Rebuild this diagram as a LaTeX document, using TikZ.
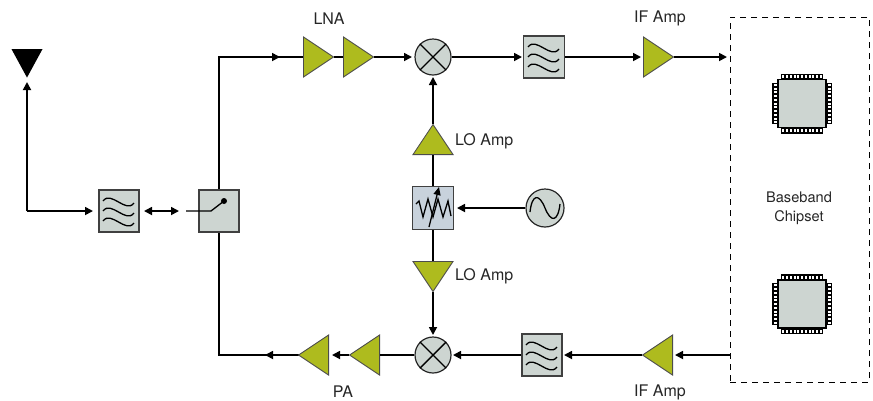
\documentclass[tikz,border=0pt]{standalone}
\usepackage{fontspec}
\setmainfont{TeX Gyre Heros}
\usetikzlibrary{arrows.meta,shapes.geometric}
\definecolor{boxgrey}{HTML}{CDD5D1}
\definecolor{resblue}{HTML}{C8D2DC}
\definecolor{ampgreen}{HTML}{AEBB1E}
\tikzset{
  x=1pt,y=-1pt,
  conn/.style={draw=black,line width=1.7pt},
  arr/.style={conn,-{Triangle[length=8pt,width=8pt]}},
  lbl/.style={font=\fontsize{16}{18.5}\selectfont,text=black!85,inner sep=0pt},
  blockbox/.style={draw=black!75,fill=boxgrey,line width=1.1pt,minimum width=40pt,minimum height=41pt,inner sep=0pt},
  resbox/.style={draw=black!75,fill=resblue,line width=1.1pt,minimum width=41pt,minimum height=43pt,inner sep=0pt},
  mixerc/.style={circle,draw=black!85,fill=boxgrey,line width=1.2pt,minimum size=36pt,inner sep=0pt},
  amp/.style={isosceles triangle,isosceles triangle apex angle=68,isosceles triangle stretches,
    minimum height=30pt,minimum width=40pt,inner sep=0pt,draw=black!70,fill=ampgreen,line width=.9pt,shape border rotate=#1},
  wave/.style={draw=black,line width=1.3pt},
}
\newcommand{\wavesat}[1]{%
  \foreach \dy in {-10,0,10}{
    \draw[wave] ([shift={(-16,\dy)}]#1) .. controls +(8,-11) and +(-8,11) .. ++(31,2);
  }}
\newcommand{\chipat}[2]{%
  \foreach \i in {-5,...,5}{
    \fill[black] ([shift={(\i*3.75-1.9,-30)}]#1) rectangle +(3.8,6);
    \fill[black] ([shift={(\i*3.75-1.9,24)}]#1) rectangle +(3.8,6);
    \fill[black] ([shift={(-30,\i*3.75-1.9)}]#1) rectangle +(6,3.8);
    \fill[black] ([shift={(24,\i*3.75-1.9)}]#1) rectangle +(6,3.8);
    \fill[white] ([shift={(\i*3.75-1,-28.5)}]#1) rectangle +(2,3);
    \fill[white] ([shift={(\i*3.75-1,25.5)}]#1) rectangle +(2,3);
    \fill[white] ([shift={(-28.5,\i*3.75-1)}]#1) rectangle +(3,2);
    \fill[white] ([shift={(25.5,\i*3.75-1)}]#1) rectangle +(3,2);
  }
  \node[draw=black,fill=boxgrey,line width=1.2pt,minimum size=48pt,inner sep=0pt] (#2) at (#1) {};
}
\newcommand{\crossin}[1]{%
  \draw[line width=1.4pt,black] (#1.45)--(#1.225) (#1.135)--(#1.315);
}
\begin{document}
\begin{tikzpicture}
\useasboundingbox (0,0) rectangle (873,400);
% free ends and corners
\coordinate (anttip) at (27,82);
\coordinate (antcorner) at (27,211);
\coordinate (f1in) at (93,211);
\coordinate (dleft) at (144,211);
\coordinate (dright) at (179,211);
\coordinate (swin) at (186,211);
\coordinate (swtop) at (219,193);
\coordinate (swbot) at (219,227);
\coordinate (swhinge) at (211,211);
\coordinate (swdot) at (224,201);
\coordinate (tl) at (219,57);
\coordinate (tlarrow) at (280,57);
\coordinate (bl) at (219,355);
\coordinate (blarrow) at (265,355);
\coordinate (m1in) at (412,57);
\coordinate (f2in) at (522,57);
\coordinate (if1in) at (641,57);
\coordinate (bbin) at (727,57);
\coordinate (m1lo) at (433,77);
\coordinate (attin) at (457,208);
\coordinate (m2lo) at (433,335);
\coordinate (bbout) at (730,355);
\coordinate (if2in) at (675,355);
\coordinate (f3in) at (564,355);
\coordinate (m2in) at (453,355);
\coordinate (p2in) at (332,355);
% line under blocks
\draw[conn] (swtop) -- (tl) -- (303,57);
\draw[conn] (swbot) -- (bl) -- (301,355);
% nodes
\node[isosceles triangle,isosceles triangle apex angle=56,isosceles triangle stretches,minimum height=28.5pt,minimum width=31pt,inner sep=0pt,fill=black,shape border rotate=270,anchor=apex] (ant) at (27,78) {};
\node[blockbox,minimum height=42pt] (f1) at (119,211) {};
\node[blockbox,minimum height=42pt] (sw) at (219,211) {};
\node[amp=0,anchor=lower side] (l1) at (303,57) {};
\node[amp=0,anchor=lower side] (l2) at (343,57) {};
\node[mixerc] (m1) at (433,57) {};
\node[blockbox,minimum width=41pt,minimum height=42pt] (f2) at (544,57) {};
\node[amp=0,anchor=lower side] (if1) at (643,57) {};
\node[draw=black,line width=1pt,dash pattern=on 6pt off 5pt,minimum width=139pt,minimum height=365pt,inner sep=0pt] (bb) at (799.5,199.5) {};
\node[amp=90,anchor=lower side] (lo1) at (433,155) {};
\node[resbox] (att) at (433,208) {};
\node[mixerc,minimum size=38pt] (src) at (545,208) {};
\node[amp=270,anchor=lower side] (lo2) at (433,261) {};
\node[mixerc] (m2) at (433,355) {};
\node[blockbox,minimum height=42pt] (f3) at (542,355) {};
\node[amp=180,anchor=lower side] (if2) at (673,355) {};
\node[amp=180,anchor=lower side] (p1) at (380,355) {};
\node[amp=180,anchor=lower side] (p2) at (329,355) {};
% connectors
\draw[arr] (antcorner) -- (anttip);
\draw[arr] (antcorner) -- (f1in);
\draw[conn,{Triangle[length=8pt,width=8pt]}-{Triangle[length=8pt,width=8pt]}] (dleft) -- (dright);
\draw[arr] (tl) -- (tlarrow);
\draw[arr] (p2.apex) -- (blarrow);
\draw[conn] (l1.apex) -- (l2.lower side);
\draw[arr] (l2.apex) -- (m1in);
\draw[arr] (m1.east) -- (f2in);
\draw[arr] (f2.east) -- (if1in);
\draw[arr] (if1.apex) -- (bbin);
\draw[arr] (lo1.apex) -- (m1lo);
\draw[conn] (att.north) -- (lo1.lower side);
\draw[arr] (src.west) -- (attin);
\draw[conn] (att.south) -- (lo2.lower side);
\draw[arr] (lo2.apex) -- (m2lo);
\draw[arr] (bbout) -- (if2in);
\draw[arr] (if2.apex) -- (f3in);
\draw[arr] (f3.west) -- (m2in);
\draw[conn] (m2.west) -- (p1.lower side);
\draw[arr] (p1.apex) -- (p2in);
% symbols
\wavesat{f1.center}\wavesat{f2.center}\wavesat{f3.center}
\crossin{m1}\crossin{m2}
\draw[line width=1.3pt] ([shift={(-15,4)}]src.center) .. controls +(2,-18) and +(-6,-15) .. (src.center) .. controls +(6,15) and +(-2,18) .. ([shift={(15,-4)}]src.center);
\draw[conn,line width=1.3pt] (swin) -- (swhinge) -- (swdot);
\fill (swdot) circle (3pt);
\draw[line width=1.3pt,line join=miter] (416,204) -- (419,201) -- (423,217) -- (428,199) -- (433,217) -- (438,199) -- (443,217) -- (448,201) -- (451,216);
\draw[line width=1.3pt,-{Triangle[length=8pt,width=7pt]}] (429,227) -- (439,187);
\chipat{802,103.5}{c1}
\chipat{802,304}{c2}
% labels
\node[lbl] (t1) at (329,19) {LNA};
\node[lbl] (t2) at (660,18) {IF Amp};
\node[lbl,anchor=west] (t3) at (455,141) {LO Amp};
\node[lbl,anchor=west] (t4) at (455,276) {LO Amp};
\node[lbl] (t5) at (343,392) {PA};
\node[lbl] (t6) at (660,392) {IF Amp};
\node[lbl,font=\fontsize{14.6}{18.5}\selectfont,align=center] (t7) at (799,208.5) {Baseband\\Chipset};
\end{tikzpicture}
\end{document}
